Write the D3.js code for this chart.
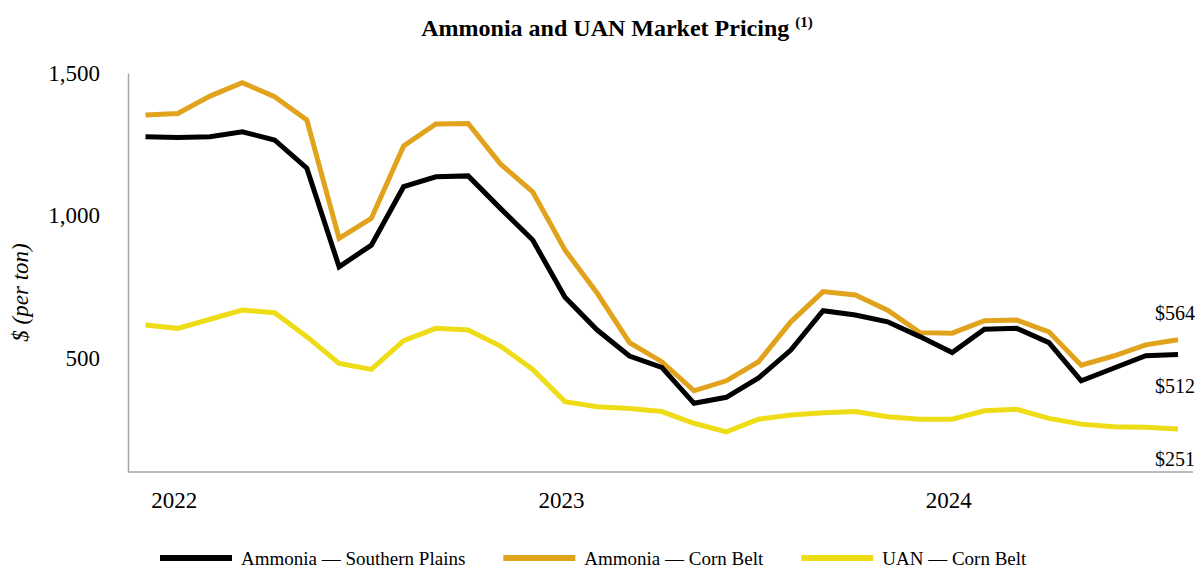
<!DOCTYPE html>
<html>
<head>
<meta charset="utf-8">
<script src="https://cdn.jsdelivr.net/npm/d3@7"></script>
<style>
  body { margin: 0; background: #fff; }
  text { font-family: "Liberation Serif", "Times New Roman", serif; fill: #000; }
</style>
</head>
<body>
<svg id="chart"></svg>
<script>
// months (Dec 2021 - Aug 2024)
const months = [
  "2021-12", "2022-01", "2022-02", "2022-03", "2022-04", "2022-05", "2022-06", "2022-07", "2022-08",
  "2022-09", "2022-10", "2022-11", "2022-12", "2023-01", "2023-02", "2023-03", "2023-04", "2023-05",
  "2023-06", "2023-07", "2023-08", "2023-09", "2023-10", "2023-11", "2023-12", "2024-01", "2024-02",
  "2024-03", "2024-04", "2024-05", "2024-06", "2024-07", "2024-08"
];
const yearTicks = ["2022-01", "2023-01", "2024-01"];
const yTicks = [500, 1000, 1500];

const southernPlains = [1276, 1274, 1276, 1294, 1265, 1166, 820, 896, 1101, 1136, 1139, 1025, 914,
  713, 598, 507, 467, 341, 362, 430, 528, 666, 651, 627, 575, 519, 601, 604, 554, 420, 464, 508, 512];
const cornBelt = [1353, 1358, 1419, 1466, 1417, 1335, 920, 990, 1244, 1321, 1323, 1181, 1083,
  879, 727, 554, 487, 385, 420, 487, 627, 733, 721, 668, 589, 587, 631, 633, 592, 475, 507, 546, 564];
const uanCornBelt = [616, 604, 636, 668, 659, 575, 481, 460, 561, 604, 598, 542, 460,
  347, 329, 323, 312, 271, 241, 285, 300, 308, 312, 294, 285, 285, 315, 320, 288, 268, 259, 257, 251];

const seriesNames = ["Ammonia \u2014 Southern Plains", "Ammonia \u2014 Corn Belt", "UAN \u2014 Corn Belt"];
const endLabels = ["$512", "$564", "$251"];

const width = 1198;
const height = 570;
const colors = ["#000000", "#E2A31C", "#EEDC17"];

const svg = d3.select("#chart").attr("width", width).attr("height", height);

const axisX = 128, axisBottom = 472, axisRight = 1193;

const x = d3.scalePoint().domain(months).range([145.5, 1178]);
const y = d3.scaleLinear().domain([100, 1500]).range([axisBottom, 73]);

// title
const title = svg.append("text")
  .attr("x", 617).attr("y", 36)
  .attr("text-anchor", "middle")
  .style("font-size", "24px").style("font-weight", "bold");
title.append("tspan").text("Ammonia and UAN Market Pricing ");
title.append("tspan").attr("dy", -9).style("font-size", "15px").text("(1)");

// y axis
const gy = svg.append("g").attr("transform", `translate(${axisX},0)`)
  .call(d3.axisLeft(y).tickValues(yTicks).tickSize(0).tickPadding(28).tickFormat(d3.format(",")));
gy.select(".domain").attr("stroke", "#a6a6a6").attr("stroke-width", 1.5);
gy.selectAll("text").style("font-size", "23px").style("font-family", "Liberation Serif");

// x baseline
svg.append("line")
  .attr("x1", axisX).attr("x2", axisRight)
  .attr("y1", axisBottom).attr("y2", axisBottom)
  .attr("stroke", "#a6a6a6").attr("stroke-width", 1.5);

const gx = svg.append("g").attr("transform", `translate(0,${axisBottom})`)
  .call(d3.axisBottom(x).tickValues(yearTicks).tickSize(0).tickPadding(20).tickFormat(d => d.slice(0, 4)));
gx.select(".domain").remove();
gx.selectAll("text").style("font-size", "23px").style("font-family", "Liberation Serif")
  .attr("dx", -4);

// y label
svg.append("text")
  .attr("transform", `translate(28,${y(730)}) rotate(-90)`)
  .attr("text-anchor", "middle")
  .style("font-size", "23px").style("font-style", "italic")
  .text("$ (per ton)");

// lines
const allSeries = [southernPlains, cornBelt, uanCornBelt];
const line = d3.line().x((d, i) => x(months[i])).y(d => y(d));
// draw yellow first, then orange, then black on top
[2, 1, 0].forEach(k => {
  svg.append("path")
    .datum(allSeries[k])
    .attr("d", line)
    .attr("fill", "none")
    .attr("stroke", colors[k])
    .attr("stroke-width", 5)
    .attr("stroke-linejoin", "miter");
});

// end labels
const labelOffsets = [31, -27, 30];
allSeries.forEach((s, k) => {
  svg.append("text")
    .attr("x", 1195)
    .attr("y", y(s[s.length - 1]) + labelOffsets[k])
    .attr("dy", "0.35em")
    .attr("text-anchor", "end")
    .style("font-size", "20px")
    .text(endLabels[k]);
});

// legend
const legend = svg.append("g").attr("transform", "translate(160,558)");
let lx = 0;
seriesNames.forEach((name, k) => {
  legend.append("rect")
    .attr("x", lx).attr("y", -3)
    .attr("width", 72).attr("height", 6)
    .attr("fill", colors[k]);
  const t = legend.append("text")
    .attr("x", lx + 81).attr("y", 0).attr("dy", "0.35em")
    .style("font-size", "19px")
    .text(name);
  lx += 81 + t.node().getComputedTextLength() + 38;
});
</script>
</body>
</html>
